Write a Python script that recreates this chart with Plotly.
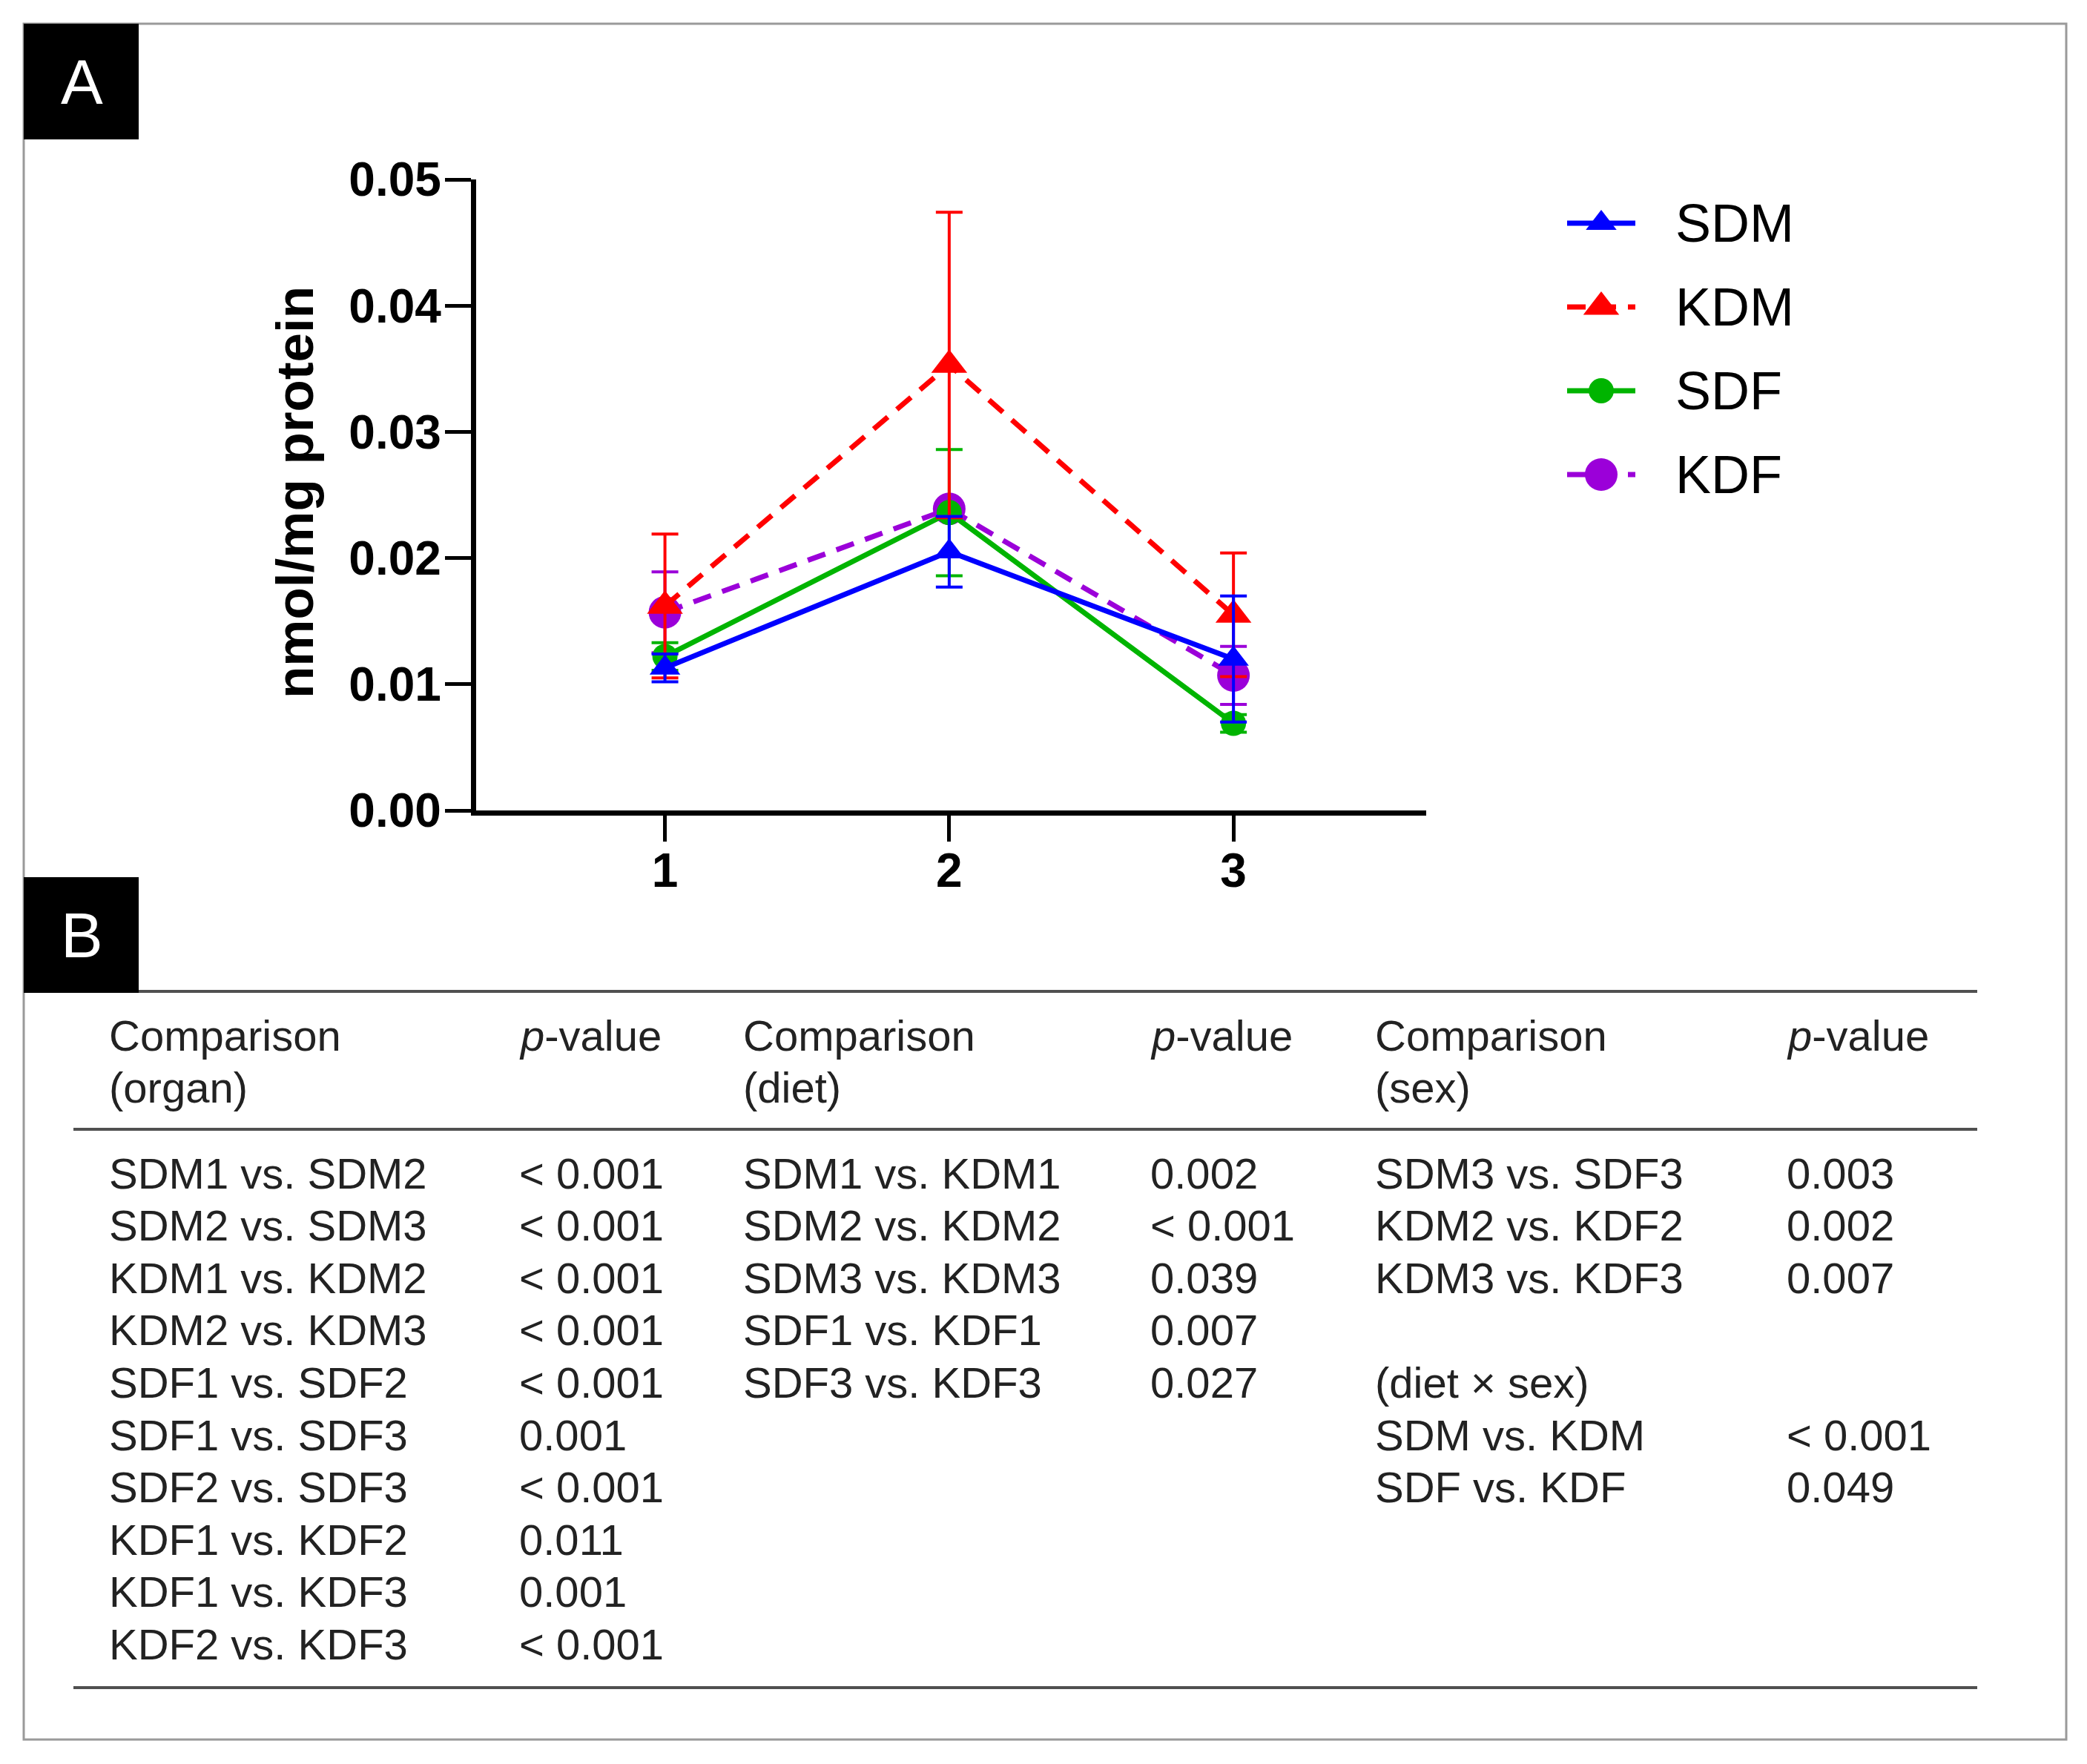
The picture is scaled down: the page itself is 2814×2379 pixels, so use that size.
import plotly.graph_objects as go

W, H = 2814, 2379

# panel A data (mean and SEM per time point)
timepoints = [1, 2, 3]
series_names = ["SDM", "KDM", "SDF", "KDF"]
sdm_mean = [0.0113, 0.0205, 0.0120]
sdm_err = [0.0011, 0.0028, 0.0050]
kdm_mean = [0.0162, 0.0353, 0.0155]
kdm_err = [0.0057, 0.0121, 0.0049]
sdf_mean = [0.0122, 0.0236, 0.0069]
sdf_err = [0.0011, 0.0050, 0.0007]
kdf_mean = [0.0157, 0.0239, 0.0107]
kdf_err = [0.0032, 0.0006, 0.0023]

# panel B table
organ_comp = ["SDM1 vs. SDM2", "SDM2 vs. SDM3", "KDM1 vs. KDM2", "KDM2 vs. KDM3",
              "SDF1 vs. SDF2", "SDF1 vs. SDF3", "SDF2 vs. SDF3", "KDF1 vs. KDF2",
              "KDF1 vs. KDF3", "KDF2 vs. KDF3"]
organ_p = ["< 0.001", "< 0.001", "< 0.001", "< 0.001", "< 0.001",
           "0.001", "< 0.001", "0.011", "0.001", "< 0.001"]
diet_comp = ["SDM1 vs. KDM1", "SDM2 vs. KDM2", "SDM3 vs. KDM3", "SDF1 vs. KDF1", "SDF3 vs. KDF3"]
diet_p = ["0.002", "< 0.001", "0.039", "0.007", "0.027"]
sex_comp = ["SDM3 vs. SDF3", "KDM2 vs. KDF2", "KDM3 vs. KDF3", "", "(diet × sex)",
            "SDM vs. KDM", "SDF vs. KDF"]
sex_p = ["0.003", "0.002", "0.007", "", "", "< 0.001", "0.049"]

means = {"SDM": sdm_mean, "KDM": kdm_mean, "SDF": sdf_mean, "KDF": kdf_mean}
errs = {"SDM": sdm_err, "KDM": kdm_err, "SDF": sdf_err, "KDF": kdf_err}
styles = {
    "SDM": dict(color="#0000FF", symbol="triangle-up", size=36, dash="solid"),
    "KDM": dict(color="#FF0000", symbol="triangle-up", size=42, dash="25px,16px"),
    "SDF": dict(color="#00B400", symbol="circle", size=34, dash="solid"),
    "KDF": dict(color="#9B00D9", symbol="circle", size=44, dash="25px,16px"),
}


def px(x):
    return x / W


def py(y):
    return 1 - y / H


fig = go.Figure()

# draw bottom to top: KDF, SDF, KDM, SDM
for name in reversed(series_names):
    st = styles[name]
    fig.add_trace(go.Scatter(
        x=timepoints, y=means[name], mode="lines+markers", name=name,
        line=dict(color=st["color"], width=7, dash=st["dash"]),
        marker=dict(color=st["color"], symbol=st["symbol"], size=st["size"]),
        error_y=dict(type="data", array=errs[name], color=st["color"],
                     thickness=4, width=18),
        showlegend=False, cliponaxis=False,
    ))

# hand-made legend on its own axis pair
for i, name in enumerate(series_names):
    st = styles[name]
    fig.add_trace(go.Scatter(
        x=[0, 1], y=[i, i], mode="lines", xaxis="x2", yaxis="y2",
        line=dict(color=st["color"], width=7, dash=st["dash"]),
        showlegend=False, hoverinfo="skip", cliponaxis=False,
    ))
    fig.add_trace(go.Scatter(
        x=[0.5], y=[i], mode="markers", xaxis="x2", yaxis="y2",
        marker=dict(color=st["color"], symbol=st["symbol"], size=st["size"]),
        showlegend=False, hoverinfo="skip", cliponaxis=False,
    ))
    fig.add_annotation(x=px(2257), xref="paper", y=i, yref="y2", text=name,
                       showarrow=False, xanchor="left", yanchor="middle",
                       font=dict(family="Liberation Sans", size=72, color="black"))

bold = dict(family="Liberation Sans", size=64, color="black", weight="bold")
fig.update_layout(
    template="none",
    width=W, height=H,
    margin=dict(l=0, r=0, t=0, b=0, pad=0, autoexpand=False),
    showlegend=False,
    font=dict(family="Liberation Sans", color="black"),
    paper_bgcolor="white", plot_bgcolor="white",
    xaxis=dict(domain=[px(641.7), px(1923)], range=[0.335, 3.678],
               tickvals=timepoints, ticktext=[str(t) for t in timepoints],
               showline=True, linecolor="black", linewidth=7,
               ticks="outside", ticklen=35, tickwidth=5, tickcolor="black",
               ticklabelstandoff=-16,
               tickfont=bold, showgrid=False, zeroline=False, automargin=False),
    yaxis=dict(domain=[py(1093), py(242)], range=[0, 0.05], dtick=0.01,
               tickformat=".2f",
               showline=True, linecolor="black", linewidth=7,
               ticks="outside", ticklen=35, tickwidth=5, tickcolor="black",
               ticklabelstandoff=-8,
               tickfont=bold, showgrid=False, zeroline=False, automargin=False),
    xaxis2=dict(domain=[px(2113), px(2205)], range=[0, 1], visible=False,
                anchor="y2", automargin=False),
    yaxis2=dict(domain=[py(696.5), py(244.5)], range=[3.5, -0.5], visible=False,
                anchor="x2", automargin=False),
)

fig.add_annotation(x=px(398), y=py(664), xref="paper", yref="paper",
                   text="nmol/mg protein", textangle=-90, showarrow=False,
                   xanchor="center", yanchor="middle",
                   font=dict(family="Liberation Sans", size=71, color="black",
                             weight="bold"))

shapes = []
# outer frame
shapes.append(dict(type="rect", xref="paper", yref="paper",
                   x0=px(32), x1=px(2786), y0=py(2346), y1=py(32),
                   line=dict(color="#9a9a9a", width=3), fillcolor="rgba(0,0,0,0)"))
# panel label boxes
for top in (32, 1183):
    shapes.append(dict(type="rect", xref="paper", yref="paper",
                       x0=px(32), x1=px(187), y0=py(top + 156), y1=py(top),
                       line=dict(width=0), fillcolor="black"))
# table rules
for y, x0 in ((1337, 187), (1523, 99), (2276, 99)):
    shapes.append(dict(type="line", xref="paper", yref="paper",
                       x0=px(x0), x1=px(2666), y0=py(y), y1=py(y),
                       line=dict(color="#505050", width=4)))
fig.update_layout(shapes=shapes)

for lab, cy in (("A", 110), ("B", 1261)):
    fig.add_annotation(x=px(110), y=py(cy), xref="paper", yref="paper", text=lab,
                       showarrow=False, xanchor="center", yanchor="middle",
                       font=dict(family="Liberation Sans", size=85, color="white"))

tfont = dict(family="Liberation Sans", size=58, color="#222222")


def cell(x, y, text):
    fig.add_annotation(x=px(x), y=py(y), xref="paper", yref="paper", text=text,
                       showarrow=False, xanchor="left", yanchor="middle", font=tfont)


col_x = [(145, 698), (1000, 1549), (1852, 2407)]
headers = ["(organ)", "(diet)", "(sex)"]
for (cx, pxx), sub in zip(col_x, headers):
    cell(cx, 1396, "Comparison")
    cell(cx, 1466, sub)
    cell(pxx, 1396, "<i>p</i>-value")

row0, step = 1582, 70.6
for (cx, pxx), comps, ps in zip(col_x, (organ_comp, diet_comp, sex_comp),
                                (organ_p, diet_p, sex_p)):
    for i, (c, p) in enumerate(zip(comps, ps)):
        if c:
            cell(cx, row0 + i * step, c)
        if p:
            cell(pxx, row0 + i * step, p)

fig.write_html("out.html", config={"displayModeBar": False},
               post_script="document.body.style.margin = '0px';")
